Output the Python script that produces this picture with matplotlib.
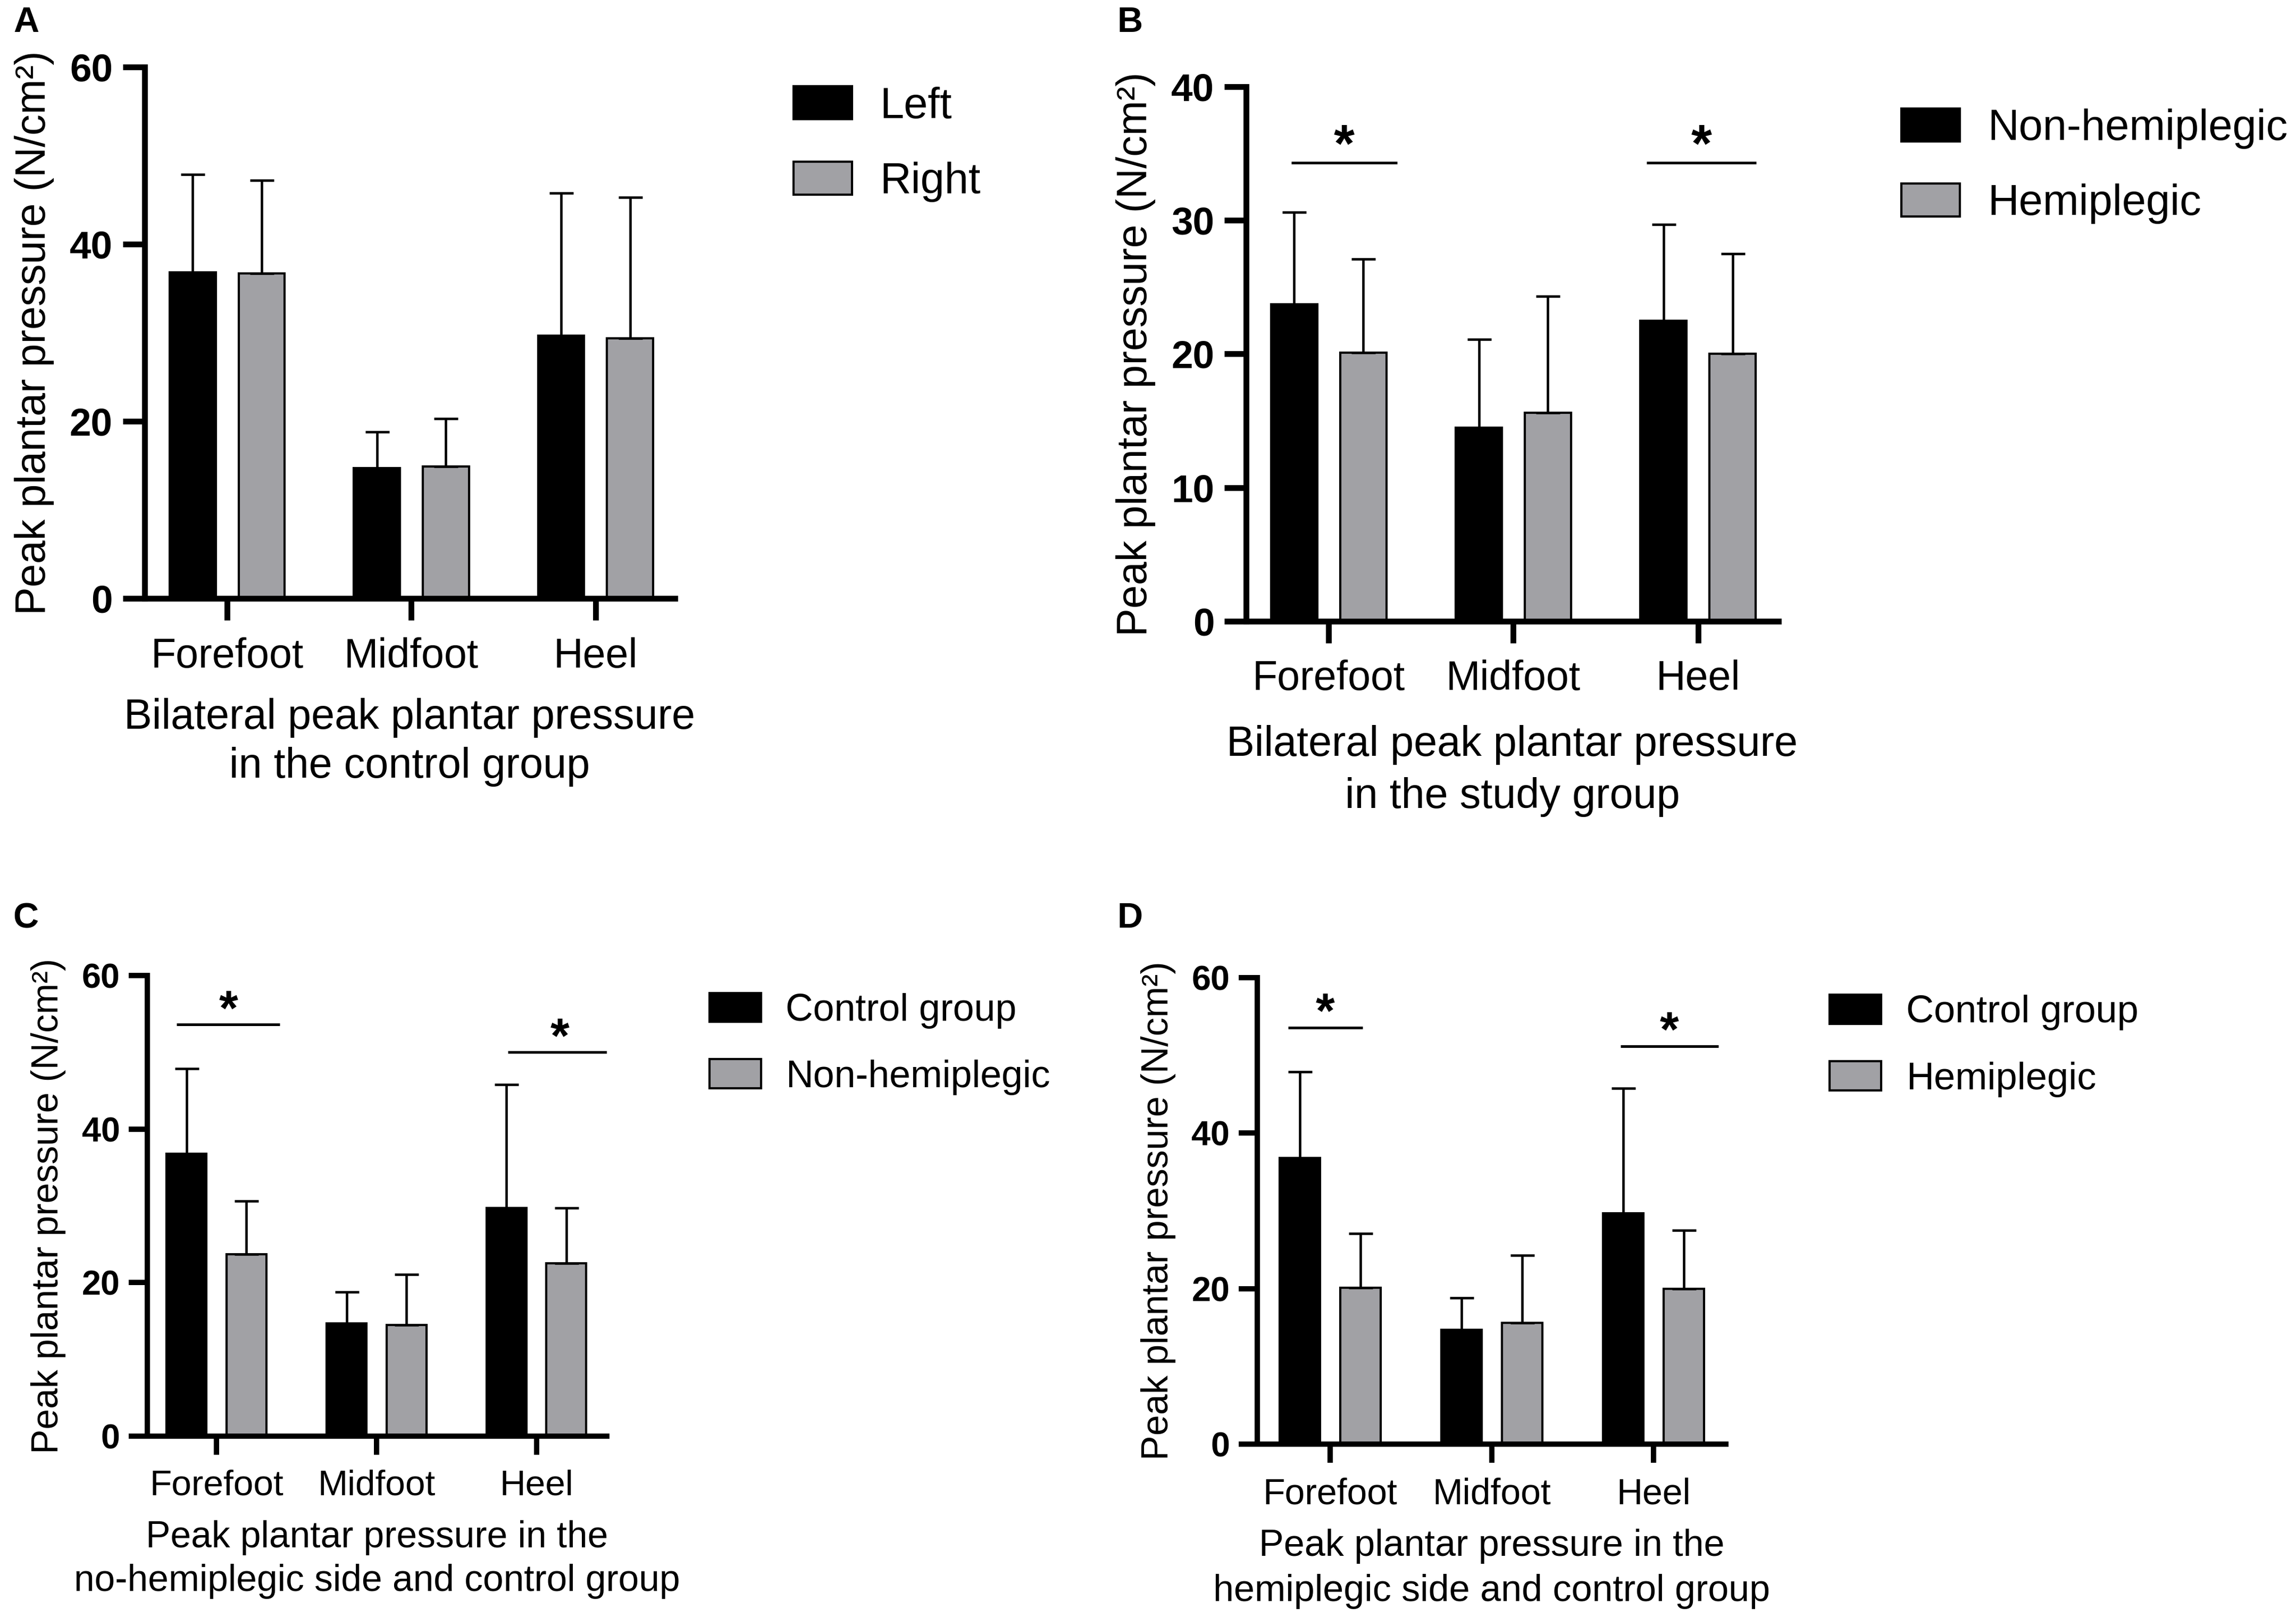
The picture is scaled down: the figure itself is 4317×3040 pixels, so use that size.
import numpy as np
import matplotlib
matplotlib.use("Agg")
import matplotlib.pyplot as plt

plt.rcParams['font.family'] = ['Liberation Sans', 'DejaVu Sans']

# ---- data ----
regions = ['Forefoot', 'Midfoot', 'Heel']

control_left_mean = [36.8, 14.7, 29.7]
control_left_sd = [11.1, 4.1, 16.1]
control_right_mean = [36.7, 14.9, 29.4]
control_right_sd = [10.5, 5.4, 15.9]

nonhemi_mean = [23.7, 14.5, 22.5]
nonhemi_sd = [6.9, 6.6, 7.2]
hemi_mean = [20.1, 15.6, 20.0]
hemi_sd = [7.0, 8.7, 7.5]

# significance brackets: group index, bracket height (N/cm2)
sig_b_groups = [0, 2]
sig_b_y = [34.3, 34.3]
sig_c_groups = [0, 2]
sig_c_y = [53.6, 50.0]
sig_d_groups = [0, 2]
sig_d_y = [53.6, 51.2]

GRAY = '#A1A1A5'
OFF = 0.187
WIDTH = 0.25


def draw_panel(ax, m1, s1, m2, s2, labels, ymax, ystep, xlabel, xlim,
               fs_text, fs_tick, xpad=5, xlabelpad=10, linesp=1.3,
               ticklen=9.0, ypad=4.5, spine_lw=2.4,
               sig_groups=(), sig_y=(), sig_span=(), star_fs=22,
               leg_anchor=(0, 0), fig=None):
    x = np.arange(len(regions))
    b1 = ax.bar(x - OFF, m1, WIDTH, color='black', edgecolor='black',
                linewidth=1.0, zorder=2, label=labels[0])
    b2 = ax.bar(x + OFF, m2, WIDTH, color=GRAY, edgecolor='black',
                linewidth=1.0, zorder=2, label=labels[1])
    for xs, m, s in [(x - OFF, m1, s1), (x + OFF, m2, s2)]:
        ax.errorbar(xs, m, yerr=[np.zeros(len(m)), s], fmt='none',
                    ecolor='black', elinewidth=1.1, capsize=5.4,
                    capthick=1.1, zorder=3)

    # significance lines with stars
    for g, y, (lo, hi) in zip(sig_groups, sig_y, sig_span):
        ax.plot([g + lo, g + hi], [y, y], color='black', lw=1.2,
                solid_capstyle='butt', zorder=3)
        ax.annotate('*', xy=(g + (lo + hi) / 2, y), xytext=(0, -4.5),
                    textcoords='offset points', ha='center', va='bottom',
                    fontsize=star_fs, fontweight='bold')

    ax.set_xlim(*xlim)
    ax.set_ylim(0, ymax)
    ax.set_yticks(np.arange(0, ymax + 1, ystep))
    ax.set_xticks(x)
    ax.set_xticklabels(regions, fontsize=fs_text - 0.5)
    for t in ax.get_yticklabels():
        t.set_fontweight('bold')
        t.set_fontsize(fs_tick)

    ax.spines['top'].set_visible(False)
    ax.spines['right'].set_visible(False)
    ax.spines['left'].set_linewidth(spine_lw)
    ax.spines['bottom'].set_linewidth(spine_lw)
    ax.tick_params(axis='both', direction='out', length=ticklen, width=spine_lw)
    ax.tick_params(axis='y', pad=ypad)
    ax.tick_params(axis='x', pad=xpad)

    ax.set_ylabel('Peak plantar pressure (N/cm²)', fontsize=fs_text, labelpad=7)
    ax.set_xlabel(xlabel, fontsize=fs_text, labelpad=xlabelpad, linespacing=linesp)

    ax.legend(handles=[b1, b2], loc='upper left', bbox_to_anchor=leg_anchor,
              bbox_transform=fig.transFigure, frameon=False, fontsize=fs_text + 0.5,
              borderpad=0, borderaxespad=0, handlelength=1.35, handleheight=0.8,
              handletextpad=0.65, labelspacing=0.8)


fig = plt.figure(figsize=(4317 / 300, 3040 / 300), dpi=300)

ax_a = fig.add_axes([0.0629, 0.6299, 0.2311, 0.3286])
ax_b = fig.add_axes([0.5427, 0.6158, 0.2319, 0.3306])
ax_c = fig.add_axes([0.0642, 0.1118, 0.2001, 0.2849])
ax_d = fig.add_axes([0.5476, 0.1069, 0.2041, 0.2885])

draw_panel(ax_a, control_left_mean, control_left_sd,
           control_right_mean, control_right_sd, ['Left', 'Right'],
           60, 20, 'Bilateral peak plantar pressure\nin the control group',
           (-0.449, 2.431), 19, 17.5, xpad=7.6, xlabelpad=10, linesp=1.28,
           ticklen=9.8, ypad=4.5, spine_lw=2.6,
           leg_anchor=(0.3456, 0.9466), fig=fig)

draw_panel(ax_b, nonhemi_mean, nonhemi_sd, hemi_mean, hemi_sd,
           ['Non-hemiplegic', 'Hemiplegic'],
           40, 10, 'Bilateral peak plantar pressure\nin the study group',
           (-0.448, 2.436), 19, 17.5, xpad=7.6, xlabelpad=12, linesp=1.38,
           ticklen=9.8, ypad=4.5, spine_lw=2.6,
           sig_groups=sig_b_groups, sig_y=sig_b_y,
           sig_span=[(-0.204, 0.371), (-0.277, 0.314)], star_fs=24,
           leg_anchor=(0.8281, 0.933), fig=fig)

draw_panel(ax_c, control_left_mean, control_left_sd, nonhemi_mean, nonhemi_sd,
           ['Control group', 'Non-hemiplegic'],
           60, 20, 'Peak plantar pressure in the\nno-hemiplegic side and control group',
           (-0.432, 2.44), 16.7, 15.5, xpad=6.5, xlabelpad=8, linesp=1.33,
           ticklen=8.4, ypad=4, spine_lw=2.4,
           sig_groups=sig_c_groups, sig_y=sig_c_y,
           sig_span=[(-0.249, 0.396), (-0.178, 0.468)], star_fs=22,
           leg_anchor=(0.309, 0.386), fig=fig)

draw_panel(ax_d, control_left_mean, control_left_sd, hemi_mean, hemi_sd,
           ['Control group', 'Hemiplegic'],
           60, 20, 'Peak plantar pressure in the\nhemiplegic side and control group',
           (-0.451, 2.447), 16.8, 15.5, xpad=6.5, xlabelpad=8, linesp=1.37,
           ticklen=8.4, ypad=4, spine_lw=2.4,
           sig_groups=sig_d_groups, sig_y=sig_d_y,
           sig_span=[(-0.26, 0.2), (-0.205, 0.4)], star_fs=22,
           leg_anchor=(0.7968, 0.385), fig=fig)

# panel letters
for letter, (px, py) in zip('ABCD', [(0.0058, 0.996), (0.4865, 0.996),
                                     (0.0056, 0.442), (0.4865, 0.442)]):
    fig.text(px, py, letter, fontsize=16, fontweight='bold', ha='left', va='top')

fig.savefig('out.png', dpi=300)
